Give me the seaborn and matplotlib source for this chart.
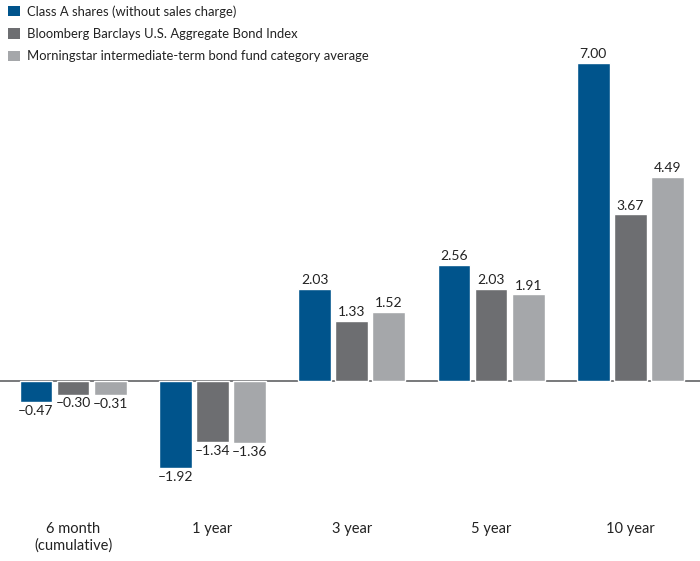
import matplotlib
matplotlib.use("Agg")
import matplotlib.pyplot as plt
import seaborn as sns
import pandas as pd
from matplotlib.patches import Patch

# data
periods = ["6 month\n(cumulative)", "1 year", "3 year", "5 year", "10 year"]
series = ["Class A shares (without sales charge)",
          "Bloomberg Barclays U.S. Aggregate Bond Index",
          "Morningstar intermediate-term bond fund category average"]
class_a = [-0.47, -1.92, 2.03, 2.56, 7.00]
bond_index = [-0.30, -1.34, 1.33, 2.03, 3.67]
category_avg = [-0.31, -1.36, 1.52, 1.91, 4.49]
colors = ["#00548C", "#6D6E71", "#A5A7AA"]

rows = []
for name, vals in zip(series, [class_a, bond_index, category_avg]):
    for p, v in zip(periods, vals):
        rows.append({"period": p, "series": name, "value": v})
df = pd.DataFrame(rows)

sns.set_style("white")
plt.rcParams['font.family'] = ['Lato', 'DejaVu Sans']

fig = plt.figure(figsize=(7, 5.61), dpi=100)
ax = fig.add_axes([0, 0.082, 1, 0.918])

sns.barplot(data=df, x="period", y="value", hue="series", order=periods,
            hue_order=series, palette=colors, width=0.8, gap=0.12,
            saturation=1, legend=False, ax=ax)

ax.axhline(0, color="#6D6E71", lw=1.3, zorder=0)

for cont in ax.containers:
    labels = [f"{b.get_height():.2f}".replace("-", "\u2013") for b in cont]
    ax.bar_label(cont, labels=labels, padding=2, fontsize=10, color="#222222")

ax.set_xlim(-0.524, 4.50)
ax.set_ylim(-2.95, 8.39)
ax.set_xlabel("")
ax.set_ylabel("")
ax.set_yticks([])
ax.tick_params(axis="x", length=0, pad=5, labelsize=10.5, labelcolor="#222222")
sns.despine(ax=ax, left=True, bottom=True)

handles = [Patch(facecolor=c, edgecolor="none") for c in colors]
fig.legend(handles, series, loc="upper left", bbox_to_anchor=(0.0, 1.005),
           frameon=False, fontsize=9.4, handlelength=0.9, handleheight=0.9,
           handletextpad=0.6, labelspacing=0.8, borderaxespad=0.2,
           labelcolor="#222222")

fig.savefig("out.png", dpi=100)
